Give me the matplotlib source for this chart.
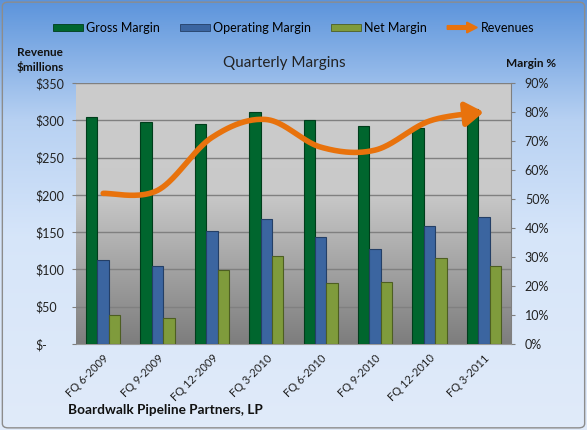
import numpy as np
import matplotlib
matplotlib.use('Agg')
import matplotlib.pyplot as plt
import matplotlib.patches as mpatches
from matplotlib.legend_handler import HandlerPatch
from matplotlib.colors import LinearSegmentedColormap

plt.rcParams['font.family'] = ['Lato', 'DejaVu Sans']

# data
quarters = ["FQ 6-2009", "FQ 9-2009", "FQ 12-2009", "FQ 3-2010",
            "FQ 6-2010", "FQ 9-2010", "FQ 12-2010", "FQ 3-2011"]
gross_margin = [78.3, 76.6, 75.7, 80.1, 77.2, 75.2, 74.5, 81.2]
operating_margin = [29.1, 27.0, 38.9, 43.2, 36.9, 32.7, 40.8, 43.7]
net_margin = [9.9, 8.9, 25.6, 30.2, 21.2, 21.5, 29.6, 26.9]
revenues = [202, 206, 277, 301, 264, 260, 299, 311]

rev_ticks = [0, 50, 100, 150, 200, 250, 300, 350]
rev_labels = ["$-", "$50", "$100", "$150", "$200", "$250", "$300", "$350"]
pct_ticks = list(range(0, 91, 10))

GREEN = '#00662e'
BLUE = '#3b65a0'
OLIVE = '#7f9b3c'
ORANGE = '#e8720c'

fig = plt.figure(figsize=(5.87, 4.30), dpi=100)

# figure background gradient
bg = fig.add_axes([0, 0, 1, 1], zorder=-10)
bg_cmap = LinearSegmentedColormap.from_list('bg', [
    (0.0, (0.88, 0.92, 0.98)),
    (0.45, (0.84, 0.90, 0.98)),
    (0.72, (0.72, 0.82, 0.95)),
    (1.0, (0.36, 0.58, 0.86))])
bg.imshow(np.linspace(0, 1, 256).reshape(-1, 1), cmap=bg_cmap, aspect='auto',
          extent=[0, 1, 0, 1])
bg.set_xlim(0, 1)
bg.set_ylim(1, 0)
bg.axis('off')
bg.add_patch(mpatches.FancyBboxPatch((0.004, 0.005), 0.992, 0.99,
                                     boxstyle='round,pad=0,rounding_size=0.01',
                                     fill=False, edgecolor='#8c8c8c', lw=1.0,
                                     transform=bg.transAxes))

# bars on percent axis (right side)
ax = fig.add_axes([0.1295, 0.2, 0.741, 0.607])
ax.patch.set_visible(False)
plot_cmap = LinearSegmentedColormap.from_list('pa', [
    (0.0, (0.80, 0.80, 0.80)),
    (0.42, (0.79, 0.79, 0.79)),
    (1.0, (0.49, 0.49, 0.49))])
ax.imshow(np.linspace(0, 1, 256).reshape(-1, 1), cmap=plot_cmap, aspect='auto',
          extent=[0, 1, 0, 1], transform=ax.transAxes, zorder=0)

x = np.arange(len(quarters))
w = 0.21
ax.bar(x - w, gross_margin, w, color=GREEN, edgecolor='#003d1b', lw=0.8, zorder=3)
ax.bar(x, operating_margin, w, color=BLUE, edgecolor='#243f66', lw=0.8, zorder=3)
ax.bar(x + w, net_margin, w, color=OLIVE, edgecolor='#4d5e22', lw=0.8, zorder=3)

ax.set_xlim(-0.5, len(quarters) - 0.5)
ax.set_ylim(0, 90)
ax.set_xticks(x)
ax.set_xticklabels(quarters, rotation=45, ha='right', rotation_mode='anchor')
ax.tick_params(axis='x', length=0, pad=6, labelsize=8, colors='#222222')
for t in rev_ticks[1:]:
    ax.axhline(t * 90 / 350, color='#808080', lw=1.0, zorder=1)

# revenues on left axis
ax2 = ax.twinx()
ax2.set_ylim(0, 350)

# twinx resets sides, so set them afterwards
ax.yaxis.tick_right()
ax.set_yticks(pct_ticks)
ax.set_yticklabels(['%d%%' % p for p in pct_ticks])
ax.tick_params(axis='y', length=3, color='#7f7f7f', labelsize=9, colors='#222222', pad=7)
for s in ['top', 'left']:
    ax.spines[s].set_visible(False)
ax.spines['right'].set_color('#7f7f7f')
ax.spines['bottom'].set_color('#9a9a9a')

ax2.yaxis.tick_left()
ax2.set_yticks(rev_ticks)
ax2.set_yticklabels(rev_labels)
ax2.tick_params(axis='y', length=3, color='#7f7f7f', labelsize=9, colors='#222222', pad=26)
for lab in ax2.get_yticklabels():
    lab.set_horizontalalignment('left')
for s in ax2.spines.values():
    s.set_visible(False)

# smooth revenue curve (Catmull-Rom like Excel smoothing)
pts = np.array(list(zip(x, revenues)), dtype=float)
padded = np.vstack([pts[0], pts, pts[-1]])
curve = []
for i in range(1, len(padded) - 2):
    p0, p1, p2, p3 = padded[i - 1], padded[i], padded[i + 1], padded[i + 2]
    t = np.linspace(0, 1, 40)[:, None]
    seg = 0.5 * ((2 * p1) + (-p0 + p2) * t + (2 * p0 - 5 * p1 + 4 * p2 - p3) * t ** 2
                 + (-p0 + 3 * p1 - 3 * p2 + p3) * t ** 3)
    curve.append(seg)
curve = np.vstack(curve)
cut = curve[:, 0] <= x[-1] - 0.25
ax2.plot(curve[cut, 0], curve[cut, 1], color=ORANGE, lw=4, solid_capstyle='round', zorder=5)
start = curve[cut][-1]
ax2.annotate('', xy=(curve[-1, 0], curve[-1, 1]), xytext=(start[0], start[1]),
             arrowprops=dict(arrowstyle='-|>,head_length=0.9,head_width=0.6',
                             color=ORANGE, lw=4, mutation_scale=12, shrinkA=0, shrinkB=0),
             zorder=6)


# legend
def make_arrow(legend, orig_handle, xdescent, ydescent, width, height, fontsize):
    return mpatches.FancyArrow(-xdescent, height / 2 - ydescent, width, 0,
                               width=height * 0.55, head_width=height * 1.6,
                               head_length=width * 0.35, length_includes_head=True)


handles = [mpatches.Patch(facecolor=GREEN, edgecolor='#003d1b', lw=0.6),
           mpatches.Patch(facecolor=BLUE, edgecolor='#243f66', lw=0.6),
           mpatches.Patch(facecolor=OLIVE, edgecolor='#4d5e22', lw=0.6),
           mpatches.FancyArrow(0, 0, 1, 0, color=ORANGE)]
fig.legend(handles, ["Gross Margin", "Operating Margin", "Net Margin", "Revenues"],
           loc='center', bbox_to_anchor=(0.5, 0.935), ncol=4, frameon=False,
           fontsize=9, handlelength=2.4, handleheight=0.45, handletextpad=0.25,
           columnspacing=1.6,
           handler_map={mpatches.FancyArrow: HandlerPatch(patch_func=make_arrow)})

fig.text(0.485, 0.853, "Quarterly Margins", ha='center', va='center', fontsize=11, color='#222222')
fig.text(0.068, 0.861, "Revenue\n$millions", ha='center', va='center', fontsize=8.5,
         fontweight='bold', linespacing=1.3, color='#111111')
fig.text(0.905, 0.853, "Margin %", ha='center', va='center', fontsize=8.5,
         fontweight='bold', color='#111111')
fig.text(0.116, 0.046, "Boardwalk Pipeline Partners, LP", ha='left', va='center',
         fontsize=9.8, fontweight='bold', color='#111111')

fig.savefig('out.png', dpi=100)
